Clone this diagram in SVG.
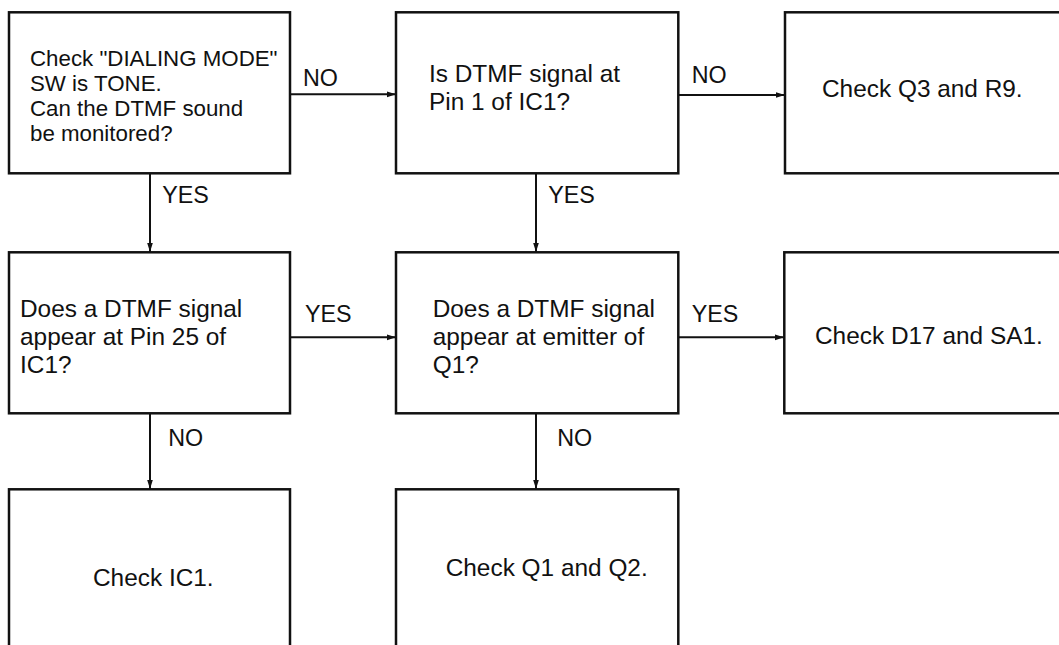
<svg xmlns="http://www.w3.org/2000/svg" width="1059" height="645" viewBox="0 0 1059 645">
  <style>
    .box { fill: #fff; stroke: #111; stroke-width: 2.5; }
    .t { font-family: "Liberation Sans", Arial, Helvetica, sans-serif; font-size: 24.4px; fill: #111; }
    .t1 { font-size: 22.3px; }
    .lbl { font-family: "Liberation Sans", Arial, Helvetica, sans-serif; font-size: 23.3px; fill: #111; }
    .edge { stroke: #111; stroke-width: 2; fill: none; marker-end: url(#arrow); }
  </style>
  <defs>
    <marker id="arrow" markerUnits="userSpaceOnUse" markerWidth="10" markerHeight="7" refX="9.5" refY="3" orient="auto">
      <path d="M0,0 L9.5,3 L0,6 Z" fill="#111"/>
    </marker>
  </defs>
  <rect width="1059" height="645" fill="#fff"/>

  <!-- connectors -->
  <g id="connectors">
    <line class="edge" x1="290" y1="94.3" x2="396" y2="94.3"/>
    <line class="edge" x1="678" y1="95" x2="785" y2="95"/>
    <line class="edge" x1="150" y1="173.5" x2="150" y2="252"/>
    <line class="edge" x1="536" y1="173.5" x2="536" y2="252"/>
    <line class="edge" x1="290" y1="337.3" x2="396" y2="337.3"/>
    <line class="edge" x1="678" y1="337.3" x2="784" y2="337.3"/>
    <line class="edge" x1="150" y1="413.5" x2="150" y2="489"/>
    <line class="edge" x1="536" y1="413.5" x2="536" y2="489"/>
    <text class="lbl" x="303" y="86">NO</text>
    <text class="lbl" x="691.7" y="83.3">NO</text>
    <text class="lbl" x="162.3" y="202.7">YES</text>
    <text class="lbl" x="548.3" y="202.7">YES</text>
    <text class="lbl" x="305" y="322.3">YES</text>
    <text class="lbl" x="691.7" y="322.3">YES</text>
    <text class="lbl" x="168.3" y="445.7">NO</text>
    <text class="lbl" x="557.3" y="445.7">NO</text>
  </g>

  <g id="check-dialing-mode">
    <rect class="box" x="9" y="12.3" width="281" height="161"/>
    <text class="t t1" x="30">
      <tspan x="30" y="66">Check "DIALING MODE"</tspan>
      <tspan x="30" y="91">SW is TONE.</tspan>
      <tspan x="30" y="116">Can the DTMF sound</tspan>
      <tspan x="30" y="141">be monitored?</tspan>
    </text>
  </g>

  <g id="dtmf-pin1">
    <rect class="box" x="396" y="12.3" width="282.3" height="161"/>
    <text class="t">
      <tspan x="429" y="82">Is DTMF signal at</tspan>
      <tspan x="429" y="110">Pin 1 of IC1?</tspan>
    </text>
  </g>

  <g id="check-q3-r9">
    <rect class="box" x="785" y="12.3" width="280" height="161"/>
    <text class="t" x="822" y="97">Check Q3 and R9.</text>
  </g>

  <g id="dtmf-pin25">
    <rect class="box" x="9" y="252.3" width="281" height="161"/>
    <text class="t">
      <tspan x="20" y="317">Does a DTMF signal</tspan>
      <tspan x="20" y="345">appear at Pin 25 of</tspan>
      <tspan x="20" y="373">IC1?</tspan>
    </text>
  </g>

  <g id="dtmf-emitter-q1">
    <rect class="box" x="396" y="252.3" width="282.3" height="161"/>
    <text class="t">
      <tspan x="432.7" y="317">Does a DTMF signal</tspan>
      <tspan x="432.7" y="345">appear at emitter of</tspan>
      <tspan x="432.7" y="373">Q1?</tspan>
    </text>
  </g>

  <g id="check-d17-sa1">
    <rect class="box" x="784.3" y="252.3" width="280" height="161"/>
    <text class="t" x="815" y="344">Check D17 and SA1.</text>
  </g>

  <g id="check-ic1">
    <rect class="box" x="9" y="489.3" width="281" height="170"/>
    <text class="t" x="93" y="585.7">Check IC1.</text>
  </g>

  <g id="check-q1-q2">
    <rect class="box" x="396" y="489.3" width="282.3" height="170"/>
    <text class="t" x="445.7" y="575.7">Check Q1 and Q2.</text>
  </g>
</svg>
